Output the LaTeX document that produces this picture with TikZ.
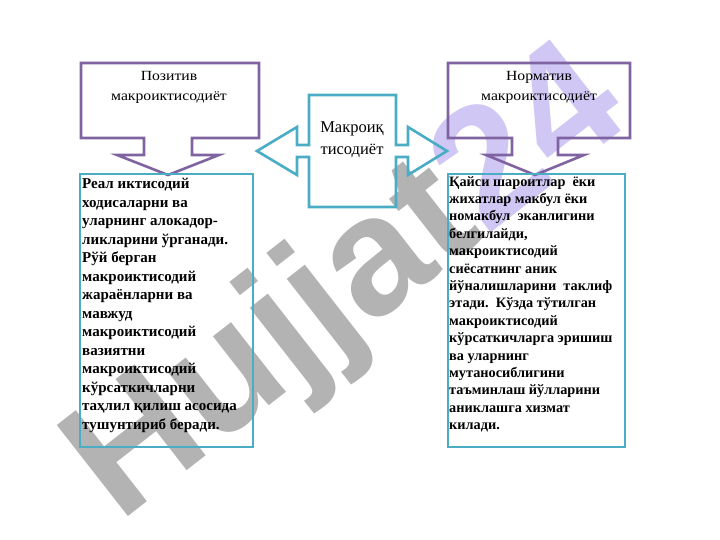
\documentclass[tikz,border=0pt]{standalone}
\usepackage{fontspec}
\setmainfont{Liberation Serif}
\newfontfamily\wmfont{Liberation Sans}
\newfontfamily\titlefont[FakeStretch=1.12]{Liberation Serif}
\definecolor{ppl}{HTML}{8064A2}
\definecolor{aqua}{HTML}{4BACC6}
\definecolor{wmgray}{HTML}{B3B3B3}
\definecolor{wmlav}{HTML}{D0C7F5}
\begin{document}
\begin{tikzpicture}[x=1pt,y=-1pt,
  purplebox/.style={draw=ppl,line width=2.6pt,line join=miter},
  aquabox/.style={draw=aqua,line width=2.6pt,line join=miter},
  titletext/.style={font=\titlefont\fontsize{14}{20}\selectfont,align=center,inner sep=0pt},
  bodyL/.style={font=\bfseries\fontsize{15}{18.5}\selectfont,align=left,inner sep=0pt,anchor=north west},
  bodyR/.style={font=\bfseries\fontsize{14.3}{17.4}\selectfont,align=left,inner sep=0pt,anchor=north west}]
\useasboundingbox (0,0) rectangle (720,540);
% watermark
\node[rotate=38,font=\wmfont\bfseries\fontsize{168}{168}\selectfont,text=wmgray,inner sep=0pt] (wm) at (350,288) {Hujjat\textcolor{wmlav}{24}};
% left callout
\draw[purplebox] (81,63) -- (259,63) -- (259,138) -- (192,138) -- (192,155) -- (219,155) -- (168,175) -- (117,155) -- (144,155) -- (144,138) -- (81,138) -- cycle;
% right callout
\draw[purplebox] (448,63) -- (630,63) -- (630,138) -- (558,138) -- (558,155) -- (584,155) -- (535,175) -- (486,155) -- (512,155) -- (512,138) -- (448,138) -- cycle;
% center double arrow callout
\draw[aquabox] (309,95) -- (396,95) -- (396,145) -- (408,145) -- (408,127) -- (447,151) -- (408,175) -- (408,157) -- (396,157) -- (396,207) -- (309,207) -- (309,157) -- (297,157) -- (297,175) -- (257,151) -- (297,127) -- (297,145) -- (309,145) -- cycle;
% bottom boxes
\draw[aquabox] (80,174) rectangle (253,447);
\draw[aquabox] (448,174) rectangle (625,447);
% titles
\node[titletext] (tl) at (169,87) {Позитив\\макроиктисодиёт};
\node[titletext] (tr) at (539,87) {Норматив\\макроиктисодиёт};
\node[font=\fontsize{16.5}{22}\selectfont,align=center,inner sep=0pt] (tc) at (352,140) {Макроиқ\\тисодиёт};
% body texts
\node[bodyL] (bl) at (82,178) {Реал иктисодий\\ходисаларни ва\\уларнинг алокадор-\\ликларини ўрганади.\\Рўй берган\\макроиктисодий\\жараёнларни ва\\мавжуд\\макроиктисодий\\вазиятни\\макроиктисодий\\кўрсаткичларни\\таҳлил қилиш асосида\\тушунтириб беради.};
\node[bodyR] (br) at (449,176) {Қайси шароитлар\ \ ёки\\жихатлар макбул ёки\\номакбул\ \ эканлигини\\белгилайди,\\макроиктисодий\\сиёсатнинг аник\\йўналишларини\ \ таклиф\\этади.\ \ Кўзда тўтилган\\макроиктисодий\\кўрсаткичларга эришиш\\ва уларнинг\\мутаносиблигини\\таъминлаш йўлларини\\аниклашга хизмат\\килади.};
\end{tikzpicture}
\end{document}
